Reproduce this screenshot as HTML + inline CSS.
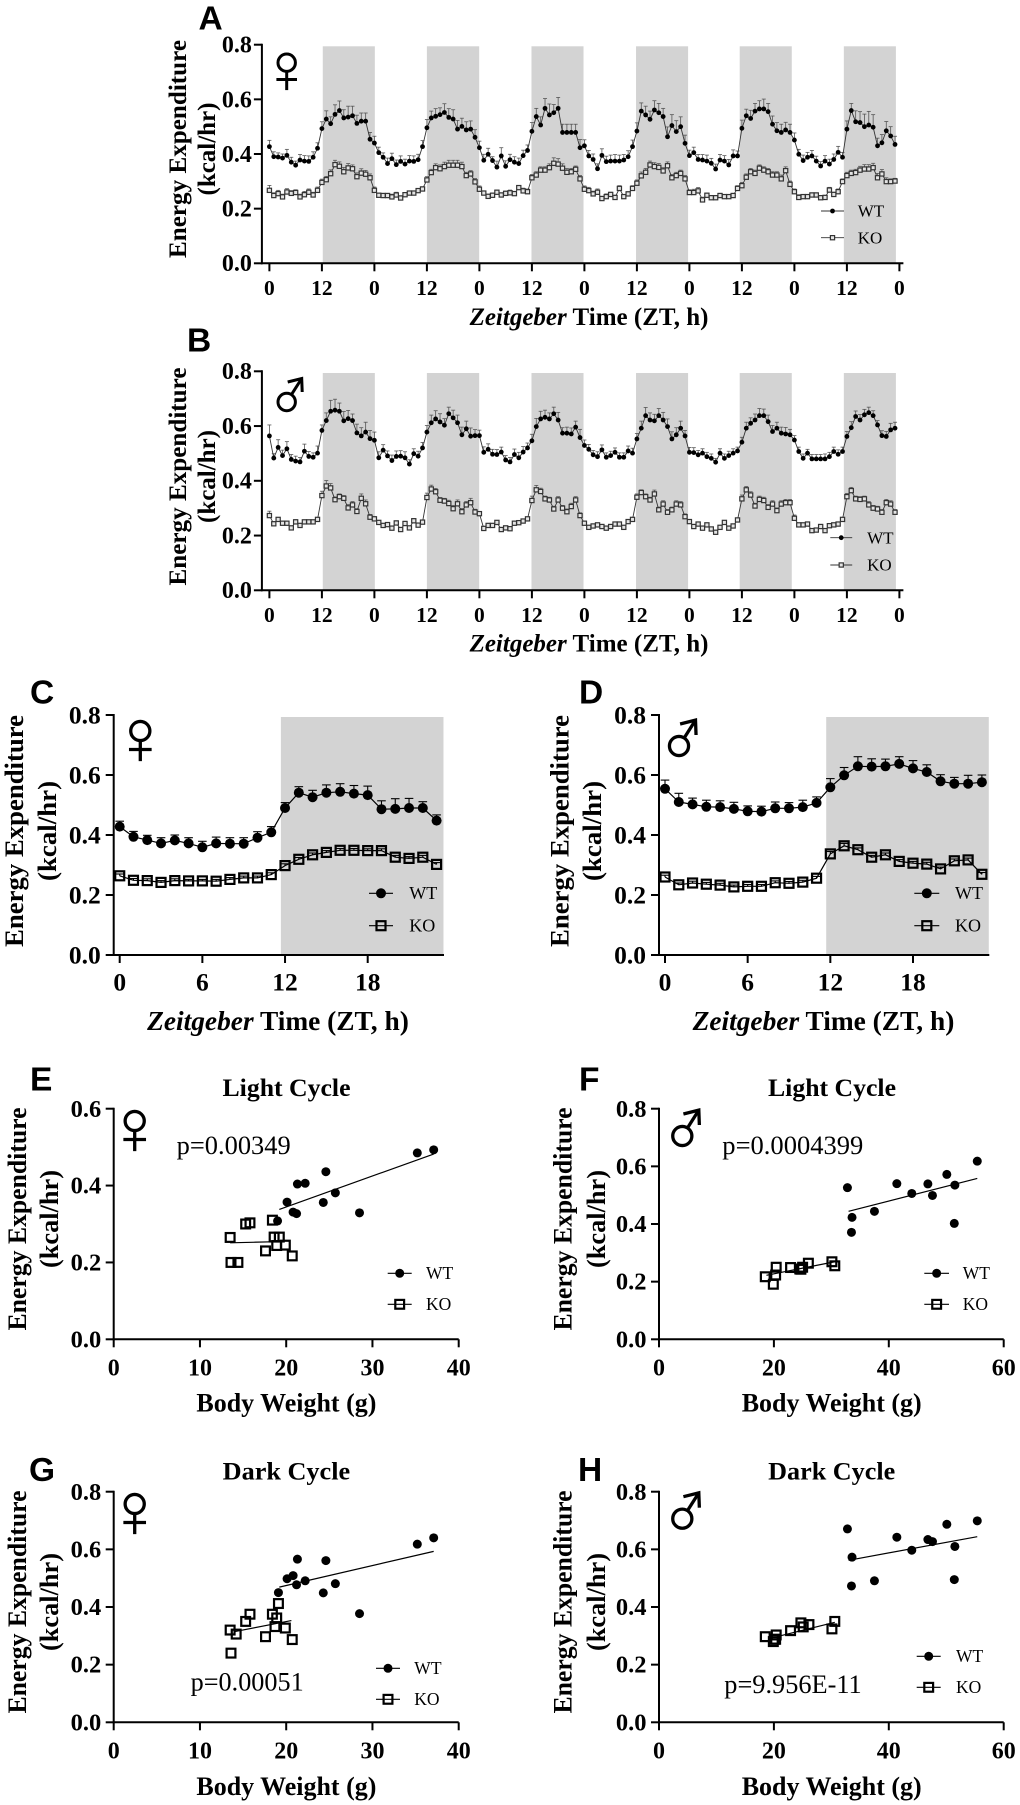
<!DOCTYPE html>
<html lang="en">
<head>
<meta charset="utf-8">
<title>Energy Expenditure Figure</title>
<style>
html,body{margin:0;padding:0;background:#fff;}
svg{display:block;filter:blur(0.35px);}
text{font-family:"Liberation Serif",serif;fill:#000;}
.letter{font-family:"Liberation Sans",sans-serif;font-weight:700;}
.bold{font-weight:700;}
</style>
</head>
<body>
<svg id="figure" xmlns="http://www.w3.org/2000/svg" width="1020" height="1805" viewBox="0 0 1020 1805"></svg>
<script>
/* ---------- Data: Panel A (female, hourly over 6 days) ---------- */
const aWT = [.427,.390,.389,.385,.395,.370,.359,.378,.374,.373,.388,.421,.493,.528,.511,.545,.559,.532,.535,.540,.512,.520,.520,.454,
.440,.405,.388,.365,.383,.361,.373,.363,.374,.373,.379,.427,.496,.532,.538,.544,.552,.534,.528,.491,.501,.488,.491,.461,
.423,.377,.399,.376,.352,.393,.355,.379,.370,.365,.394,.413,.483,.537,.506,.567,.543,.551,.567,.479,.479,.479,.479,.423,
.430,.393,.380,.346,.395,.372,.374,.374,.374,.378,.390,.427,.484,.557,.543,.527,.561,.551,.537,.463,.504,.482,.500,.439,
.394,.405,.380,.378,.374,.366,.345,.378,.374,.360,.393,.393,.494,.540,.530,.557,.565,.565,.555,.509,.485,.479,.488,.479,
.451,.399,.376,.388,.393,.374,.356,.374,.363,.380,.406,.388,.491,.559,.518,.515,.500,.506,.498,.430,.441,.485,.466,.435];
const aWTerr = [.023,.018,.015,.015,.022,.018,.015,.020,.020,.020,.020,.020,.025,.030,.025,.035,.035,.030,.040,.035,.030,.030,.030,.025,
.025,.020,.016,.020,.020,.017,.020,.018,.020,.020,.020,.022,.030,.025,.028,.025,.032,.032,.034,.032,.030,.030,.030,.028,
.024,.022,.022,.014,.022,.030,.020,.020,.020,.020,.020,.020,.032,.030,.030,.036,.040,.030,.040,.030,.030,.030,.030,.030,
.022,.020,.020,.018,.024,.020,.022,.024,.022,.020,.022,.024,.030,.030,.032,.030,.034,.034,.030,.036,.040,.040,.036,.030,
.020,.020,.018,.020,.022,.018,.018,.020,.020,.020,.022,.018,.030,.024,.030,.028,.030,.036,.030,.030,.030,.030,.028,.030,
.026,.018,.020,.018,.020,.018,.016,.020,.018,.020,.022,.018,.030,.026,.040,.040,.046,.050,.046,.028,.030,.034,.034,.030];
const aKO = [.267,.248,.255,.243,.261,.256,.259,.243,.251,.260,.250,.267,.296,.306,.328,.361,.355,.335,.349,.346,.317,.330,.326,.313,
.267,.249,.248,.248,.243,.250,.239,.251,.257,.257,.266,.272,.305,.332,.350,.346,.354,.359,.359,.359,.354,.321,.327,.298,
.271,.257,.245,.249,.260,.250,.256,.258,.255,.277,.265,.262,.313,.323,.341,.341,.350,.366,.363,.348,.333,.335,.344,.309,
.271,.266,.254,.260,.237,.244,.252,.241,.274,.244,.254,.274,.293,.320,.333,.360,.354,.351,.338,.357,.313,.321,.329,.309,
.259,.259,.265,.232,.249,.240,.240,.248,.244,.244,.248,.274,.284,.315,.335,.329,.348,.341,.335,.323,.323,.309,.339,.289,
.262,.241,.244,.244,.250,.250,.240,.241,.268,.252,.262,.299,.321,.329,.332,.341,.345,.345,.350,.313,.327,.299,.299,.301];
const aKOerr = [.018,.010,.012,.010,.012,.010,.010,.010,.012,.012,.010,.012,.012,.012,.014,.016,.016,.016,.016,.014,.014,.016,.014,.014,
.012,.008,.008,.008,.010,.010,.008,.008,.008,.008,.008,.008,.012,.012,.014,.014,.016,.018,.018,.018,.016,.012,.012,.012,
.012,.008,.008,.008,.008,.008,.008,.010,.008,.008,.010,.010,.012,.012,.012,.012,.014,.020,.020,.016,.014,.012,.012,.012,
.012,.012,.010,.012,.008,.010,.008,.008,.010,.008,.008,.010,.012,.014,.014,.014,.014,.014,.012,.014,.012,.012,.012,.012,
.010,.012,.012,.010,.008,.008,.008,.008,.008,.008,.008,.010,.012,.012,.012,.012,.012,.012,.012,.012,.012,.014,.014,.012,
.010,.010,.008,.008,.008,.008,.008,.008,.010,.008,.010,.010,.012,.012,.012,.014,.016,.016,.016,.016,.016,.014,.010,.010];

/* ---------- Data: Panel B (male, hourly over 6 days) ---------- */
const bWT = [.564,.483,.522,.492,.517,.478,.472,.469,.508,.489,.486,.501,.584,.620,.654,.658,.654,.619,.627,.620,.575,.564,.578,.554,
.548,.484,.512,.491,.474,.489,.490,.484,.461,.499,.490,.520,.578,.612,.626,.615,.603,.645,.630,.612,.568,.590,.563,.565,
.565,.504,.515,.497,.496,.505,.476,.469,.496,.484,.505,.520,.546,.598,.626,.632,.626,.645,.622,.574,.574,.571,.596,.558,
.529,.515,.495,.488,.513,.486,.492,.504,.486,.486,.509,.501,.553,.592,.638,.622,.619,.638,.622,.598,.553,.568,.592,.564,
.504,.503,.495,.501,.488,.482,.468,.501,.482,.492,.501,.509,.541,.592,.610,.622,.638,.638,.616,.580,.592,.574,.571,.568,
.549,.507,.482,.501,.480,.480,.480,.480,.488,.507,.497,.507,.562,.594,.635,.622,.641,.649,.638,.604,.565,.562,.586,.592];
const bWTerr = [.040,.016,.028,.020,.026,.018,.018,.016,.026,.018,.016,.026,.020,.028,.040,.040,.030,.034,.030,.024,.032,.030,.036,.030,
.030,.022,.020,.018,.020,.020,.020,.022,.016,.018,.018,.020,.024,.028,.030,.030,.024,.024,.028,.028,.028,.028,.030,.022,
.020,.020,.020,.018,.018,.018,.016,.016,.020,.020,.020,.018,.024,.030,.028,.026,.022,.024,.028,.020,.022,.022,.022,.030,
.020,.018,.016,.018,.018,.016,.016,.016,.016,.016,.018,.018,.020,.026,.030,.026,.024,.026,.028,.028,.026,.026,.026,.020,
.018,.018,.016,.016,.016,.016,.014,.016,.016,.016,.016,.014,.018,.022,.020,.022,.026,.024,.024,.022,.022,.022,.024,.020,
.016,.016,.016,.014,.016,.016,.016,.018,.016,.016,.016,.016,.018,.022,.020,.020,.020,.020,.018,.016,.018,.018,.024,.022];
const bKO = [.273,.243,.259,.245,.245,.228,.250,.237,.250,.250,.250,.259,.346,.381,.374,.331,.342,.336,.301,.312,.288,.336,.316,.267,
.261,.248,.237,.240,.227,.246,.222,.244,.228,.254,.238,.249,.339,.370,.360,.329,.326,.317,.298,.316,.287,.312,.320,.286,
.280,.226,.237,.237,.248,.222,.228,.225,.245,.247,.253,.261,.328,.367,.361,.334,.330,.297,.330,.300,.287,.306,.330,.273,
.245,.230,.235,.239,.233,.227,.233,.242,.242,.230,.251,.259,.340,.357,.342,.330,.352,.294,.315,.285,.294,.315,.312,.269,
.251,.233,.242,.227,.239,.224,.212,.230,.248,.227,.235,.257,.334,.367,.348,.308,.332,.328,.303,.315,.291,.315,.320,.320,
.263,.239,.239,.242,.218,.220,.233,.218,.236,.239,.242,.259,.342,.364,.334,.332,.334,.312,.300,.297,.285,.320,.315,.285];
const bKOerr = [.016,.008,.006,.006,.006,.006,.008,.006,.006,.006,.006,.006,.016,.020,.016,.010,.010,.010,.012,.012,.010,.016,.014,.010,
.008,.006,.006,.006,.006,.008,.006,.008,.006,.008,.006,.006,.016,.014,.012,.010,.010,.012,.012,.014,.012,.012,.016,.010,
.008,.006,.006,.006,.006,.006,.006,.006,.006,.006,.006,.006,.016,.016,.012,.010,.010,.010,.012,.010,.010,.012,.012,.010,
.008,.006,.006,.006,.006,.006,.006,.006,.006,.006,.006,.006,.012,.010,.010,.010,.014,.010,.012,.010,.010,.012,.012,.010,
.008,.006,.006,.006,.006,.006,.006,.006,.006,.006,.006,.006,.014,.012,.012,.010,.012,.012,.010,.012,.010,.012,.012,.012,
.012,.006,.006,.006,.006,.006,.006,.006,.006,.006,.006,.006,.012,.012,.010,.010,.010,.012,.010,.010,.010,.012,.012,.010];

/* ---------- Data: Panels C and D (24 h averages) ---------- */
const cWT = [.428,.394,.383,.372,.382,.372,.359,.372,.371,.371,.391,.409,.490,.541,.526,.541,.544,.538,.533,.486,.487,.490,.490,.448];
const cWTerr = [.018,.018,.016,.019,.018,.019,.020,.021,.020,.020,.020,.019,.018,.020,.023,.026,.027,.027,.030,.028,.034,.032,.021,.019];
const cKO = [.264,.249,.248,.242,.248,.247,.247,.246,.252,.257,.257,.268,.298,.319,.334,.342,.349,.349,.348,.348,.326,.322,.326,.302];
const cKOerr = [.006,.006,.006,.006,.006,.005,.005,.006,.006,.006,.006,.006,.006,.006,.006,.006,.006,.006,.006,.006,.006,.006,.006,.006];
const dWT = [.554,.510,.502,.494,.493,.487,.479,.478,.489,.489,.493,.507,.559,.599,.629,.628,.629,.637,.622,.610,.579,.571,.571,.576];
const dWTerr = [.029,.029,.021,.022,.021,.022,.018,.018,.021,.019,.023,.020,.029,.026,.032,.026,.024,.024,.026,.024,.022,.021,.028,.024];
const dKO = [.260,.234,.240,.236,.233,.227,.229,.229,.241,.239,.243,.256,.337,.364,.351,.326,.334,.312,.306,.303,.287,.314,.317,.269];
const dKOerr = [.006,.006,.006,.006,.006,.006,.006,.006,.006,.006,.006,.006,.008,.008,.006,.006,.006,.006,.006,.006,.006,.006,.006,.006];

/* ---------- Data: Panels E-H (body weight scatter) ---------- */
const eWTx = [19.0,20.1,20.8,21.2,21.3,22.2,24.3,24.6,25.7,28.5,35.2,37.1];
const eWTy = [.308,.357,.331,.327,.404,.406,.356,.436,.381,.329,.485,.493];
const eKOx = [13.5,13.6,14.4,15.3,15.8,17.6,18.4,18.6,19.2,18.9,19.9,20.7];
const eKOy = [.265,.200,.200,.300,.303,.230,.310,.266,.266,.244,.245,.217];
const eWTfitX = [19.2,37.1];
const eWTfitY = [.338,.482];
const eKOfitX = [13.5,18.9];
const eKOfitY = [.251,.254];

const fWTx = [32.8,33.6,33.5,37.5,41.4,44.0,46.8,47.6,50.1,51.5,51.4,55.4];
const fWTy = [.526,.423,.371,.444,.540,.506,.539,.499,.572,.535,.402,.618];
const fKOx = [18.5,19.9,20.4,20.3,22.9,24.5,24.7,25.0,26.0,30.1,30.6];
const fKOy = [.217,.191,.250,.223,.249,.244,.243,.250,.264,.269,.255];
const fWTfitX = [33.0,55.4];
const fWTfitY = [.444,.558];
const fKOfitX = [18.7,30.6];
const fKOfitY = [.222,.269];

const gWTx = [19.1,20.1,20.8,21.2,21.3,22.2,24.3,24.6,25.7,28.5,35.2,37.1];
const gWTy = [.450,.498,.509,.477,.566,.491,.449,.561,.481,.377,.618,.640];
const gKOx = [13.5,13.6,14.2,15.3,15.8,17.6,18.4,18.9,19.1,18.7,19.9,20.7];
const gKOy = [.320,.240,.306,.350,.375,.297,.375,.362,.412,.332,.327,.287];
const gWTfitX = [19.2,37.1];
const gWTfitY = [.469,.593];
const gKOfitX = [13.9,20.6];
const gKOfitY = [.314,.353];

const hWTx = [32.8,33.6,33.5,37.5,41.4,44.0,46.8,47.6,50.1,51.5,51.4,55.4];
const hWTy = [.671,.573,.473,.491,.642,.597,.634,.627,.687,.610,.495,.699];
const hKOx = [18.5,19.9,20.3,20.4,22.9,24.7,25.1,26.1,30.1,30.6,20.1];
const hKOy = [.297,.280,.288,.303,.318,.345,.331,.339,.324,.350,.288];
const hWTfitX = [33.0,55.4];
const hWTfitY = [.562,.644];
const hKOfitX = [20.5,30.6];
const hKOfitY = [.297,.347];

/* ---------- Tick labels ---------- */
const yTicks08 = [0,.2,.4,.6,.8];
const yTicks06 = [0,.2,.4,.6];
const xTicksWeek = [0,12,24,36,48,60,72,84,96,108,120,132,144];
const xLabelsWeek = ['0','12','0','12','0','12','0','12','0','12','0','12','0'];
const xTicksDay = [0,6,12,18];
const xTicks40 = [0,10,20,30,40];
const xTicks60 = [0,20,40,60];
const bandsWeek = [[12.2,24.1],[36,47.95],[59.9,71.8],[83.8,95.7],[107.5,119.4],[131.3,143.2]];
const bandsDay = [[11.7,23.5]];

const svg = document.getElementById('figure');
const NS = 'http://www.w3.org/2000/svg';

function add(parent, tag, attrs, txt) {
  const el = document.createElementNS(NS, tag);
  for (const k in attrs) el.setAttribute(k, attrs[k]);
  if (txt !== undefined) el.textContent = txt;
  parent.appendChild(el);
  return el;
}

function scales(p) {
  return {
    x: v => p.x0 + (v - p.xMin) * (p.x1 - p.x0) / (p.xMax - p.xMin),
    y: v => p.yBot - v * (p.yBot - p.yTop) / p.yMax
  };
}

function drawAxes(g, p, s) {
  const yAxis = add(g, 'line', {x1:p.axisX, x2:p.axisX, y1:p.yTop-1, y2:p.yBot+1, stroke:'#000', 'stroke-width':2});
  
  
  const xAxis = add(g, 'line', {x1:p.axisX-1, x2:p.axisEnd, y1:p.yBot, y2:p.yBot, stroke:'#000', 'stroke-width':2});
  
  
  p.yTicks.forEach(t => {
    const yy = s.y(t);
    const tick = add(g, 'line', {x1:p.axisX-p.tickLen, x2:p.axisX, y1:yy, y2:yy, stroke:'#000', 'stroke-width':2});
    
    
    const lab = add(g, 'text', {x:p.axisX-p.yLabelGap, y:yy+p.yFont*0.33, 'text-anchor':'end', 'font-size':p.yFont, class:'bold'}, t.toFixed(1));
    
    
  });
  p.xTicks.forEach((t, i) => {
    const xx = s.x(t);
    const tick = add(g, 'line', {x1:xx, x2:xx, y1:p.yBot, y2:p.yBot+p.tickLen, stroke:'#000', 'stroke-width':2});
    
    
    const text = p.xLabels ? p.xLabels[i] : String(t);
    const lab = add(g, 'text', {x:xx, y:p.xLabelY, 'text-anchor':'middle', 'font-size':p.xFont, class:'bold'}, text);
    
    
  });
}

function drawYTitles(g, p) {
  const t1 = add(g, 'text', {transform:'translate('+p.yT1X+','+p.yTC+') rotate(-90)', 'text-anchor':'middle', 'font-size':p.yTFont, class:'bold', textLength:p.yT1Len, lengthAdjust:'spacingAndGlyphs'}, 'Energy Expenditure');
  
  
  const t2 = add(g, 'text', {transform:'translate('+p.yT2X+','+p.yTC+') rotate(-90)', 'text-anchor':'middle', 'font-size':p.yTFont, class:'bold', textLength:p.yT2Len, lengthAdjust:'spacingAndGlyphs'}, '(kcal/hr)');
  
  
}

function drawZeitgeberTitle(g, p) {
  const t = add(g, 'text', {x:p.xTX, y:p.xTY, 'text-anchor':'middle', 'font-size':p.xTFont, class:'bold'});
  
  
  const it = add(t, 'tspan', {'font-style':'italic'}, 'Zeitgeber');
  
  
  const rest = add(t, 'tspan', {}, ' Time (ZT, h)');
  
  
}

function drawLetter(p) {
  const l = add(svg, 'text', {x:p.lx, y:p.ly, 'font-size':33.5, class:'letter'}, p.letter);
  
  
}

function drawFemale(g, cx, cy, k) {
  const sym = add(g, 'g', {fill:'none', stroke:'#000', 'stroke-width':3*k});
  
  
  add(sym, 'circle', {cx:cx, cy:cy, r:8.7*k});
  add(sym, 'line', {x1:cx, x2:cx, y1:cy+8.7*k, y2:cy+27.4*k});
  add(sym, 'line', {x1:cx-10.3*k, x2:cx+10.3*k, y1:cy+16.8*k, y2:cy+16.8*k});
}

function drawMale(g, cx, cy, k) {
  const sym = add(g, 'g', {fill:'none', stroke:'#000', 'stroke-width':3*k});
  
  
  add(sym, 'circle', {cx:cx, cy:cy, r:8.7*k});
  const tx = cx + 15*k, ty = cy - 23.5*k;
  add(sym, 'line', {x1:cx+4.7*k, x2:tx, y1:cy-7.3*k, y2:ty});
  add(sym, 'path', {d:'M'+(tx-14*k)+' '+(ty+3.5*k)+' L'+tx+' '+ty+' L'+(tx+0.5*k)+' '+(ty+13.5*k)});
}

function drawSeries(g, name, xs, ys, errs, s, st) {
  const group = add(g, 'g', {});
  
  
  const errG = add(group, 'g', {stroke:st.errColor, 'stroke-width':st.errW});
  
  
  ys.forEach((v, i) => {
    const xx = s.x(xs[i]);
    const y0 = s.y(v), y1 = s.y(v + errs[i]);
    add(errG, 'line', {x1:xx, x2:xx, y1:y0, y2:y1});
    add(errG, 'line', {x1:xx-st.cap, x2:xx+st.cap, y1:y1, y2:y1});
  });
  const pts = ys.map((v, i) => s.x(xs[i]).toFixed(2) + ',' + s.y(v).toFixed(2)).join(' ');
  const line = add(group, 'polyline', {points:pts, fill:'none', stroke:st.lineColor, 'stroke-width':st.lineW});
  
  
  ys.forEach((v, i) => drawMarker(group, name, s.x(xs[i]), s.y(v), st));
}

function drawMarker(parent, name, xx, yy, st) {
  if (name === 'wt') {
    const c = add(parent, 'circle', {cx:xx, cy:yy, r:st.r, fill:'#000'});
    
    
  } else {
    const q = add(parent, 'rect', {x:xx-st.sq, y:yy-st.sq, width:st.sq*2, height:st.sq*2, fill:st.sqFill, stroke:st.sqStroke, 'stroke-width':st.sqW});
    
    
  }
}

function drawLegend(g, p, st) {
  const leg = add(g, 'g', {});
  
  
  [['wt','WT',p.legWY],['ko','KO',p.legKY]].forEach(row => {
    const entry = add(leg, 'g', {});
    
    
    add(entry, 'line', {x1:p.legX0, x2:p.legX1, y1:row[2], y2:row[2], stroke:st.lineColor, 'stroke-width':st.lineW});
    drawMarker(entry, row[0], (p.legX0+p.legX1)/2, row[2], st);
    const lab = add(entry, 'text', {x:p.legTX, y:row[2]+p.legFont*0.33, 'font-size':p.legFont}, row[1]);
    
    
  });
}

function drawTimePanel(p, wt, wtErr, ko, koErr) {
  const g = add(svg, 'g', {});
  
  
  const s = scales(p);
  p.bands.forEach(b => {
    const r = add(g, 'rect', {x:s.x(b[0]), width:s.x(b[1])-s.x(b[0]), y:p.bandTop, height:p.yBot-p.bandTop, fill:'#d3d3d3'});
    
    
  });
  drawAxes(g, p, s);
  drawYTitles(g, p);
  drawZeitgeberTitle(g, p);
  drawLetter(p);
  const xs = wt.map((_, i) => i);
  drawSeries(g, 'ko', xs, ko, koErr, s, p.st);
  drawSeries(g, 'wt', xs, wt, wtErr, s, p.st);
  drawLegend(g, p, p.st);
  if (p.sex === 'f') drawFemale(g, p.sx, p.sy, p.sk); else drawMale(g, p.sx, p.sy, p.sk);
}

function drawFit(g, name, fx, fy, s) {
  const l = add(g, 'line', {x1:s.x(fx[0]), x2:s.x(fx[1]), y1:s.y(fy[0]), y2:s.y(fy[1]), stroke:'#000', 'stroke-width':1.2});
  
  
}

function drawScatterPanel(p, wx, wy, kx, ky, wfx, wfy, kfx, kfy) {
  const g = add(svg, 'g', {});
  
  
  const s = scales(p);
  drawAxes(g, p, s);
  drawYTitles(g, p);
  drawLetter(p);
  const xt = add(g, 'text', {x:p.xTX, y:p.xTY, 'text-anchor':'middle', 'font-size':26, class:'bold', textLength:180, lengthAdjust:'spacingAndGlyphs'}, 'Body Weight (g)');
  
  
  const tt = add(g, 'text', {x:p.titleX, y:p.titleY, 'text-anchor':'middle', 'font-size':25.5, class:'bold', textLength:p.titleLen, lengthAdjust:'spacingAndGlyphs'}, p.title);
  
  
  const pv = add(g, 'text', {x:p.pX, y:p.pY, 'font-size':26, textLength:p.pLen, lengthAdjust:'spacingAndGlyphs'}, p.pText);
  
  
  wx.forEach((v, i) => {
    const c = add(g, 'circle', {cx:s.x(v), cy:s.y(wy[i]), r:p.st.r, fill:'#000'});
    
    
  });
  kx.forEach((v, i) => {
    const sq = p.st.sq;
    const q = add(g, 'rect', {x:s.x(v)-sq, y:s.y(ky[i])-sq, width:sq*2, height:sq*2, fill:'none', stroke:'#000', 'stroke-width':p.st.sqW});
    
    
  });
  drawFit(g, 'wt', wfx, wfy, s);
  drawFit(g, 'ko', kfx, kfy, s);
  drawLegend(g, p, p.st);
  if (p.sex === 'f') drawFemale(g, p.sx, p.sy, p.sk); else drawMale(g, p.sx, p.sy, p.sk);
}

/* ---------- Styles and layouts ---------- */
const stWeek = {r:2.4, sq:2.1, sqFill:'#e4e4e4', sqStroke:'#333', sqW:1.2, lineColor:'#333', lineW:0.9, errColor:'#555', errW:0.8, cap:2};
const stDay = {r:5, sq:4.5, sqFill:'none', sqStroke:'#000', sqW:2.2, lineColor:'#000', lineW:1.2, errColor:'#000', errW:1.1, cap:4.3};
const stScat = {r:4.5, sq:4.4, sqFill:'none', sqStroke:'#000', sqW:2.2, lineColor:'#000', lineW:1.2};

const weekBase = {xMin:0, xMax:144, x0:269.4, x1:899.4, axisX:261.9, axisEnd:903.4, yMax:.8, tickLen:8, yLabelGap:10, yFont:24, xFont:21.5,
  yTicks:yTicks08, xTicks:xTicksWeek, xLabels:xLabelsWeek, bands:bandsWeek, st:stWeek,
  yTFont:25, yT1X:186, yT2X:215, yT1Len:218, yT2Len:93, xTFont:25, xTX:589, legFont:17, sk:1};
const dayBase = {xMin:0, xMax:18, yMax:.8, tickLen:8, yLabelGap:13, yFont:25.5, xFont:25.5,
  yTicks:yTicks08, xTicks:xTicksDay, bands:bandsDay, st:stDay,
  yTFont:26.5, yT1Len:232, yT2Len:100, xTFont:27.4, legFont:18, sk:1.1};
const scatBase = {xMin:0, tickLen:8, yLabelGap:12.5, yFont:24.5, xFont:24, st:stScat, yTFont:26, yT1Len:223, yT2Len:98, legFont:17.5, sk:1.1};

drawTimePanel(Object.assign({}, weekBase, {letter:'A', lx:198.5, ly:29.3, yTop:44.7, yBot:263.3, bandTop:46.3, yTC:149, xLabelY:295, xTY:325,
  legX0:821, legX1:844, legWY:211, legKY:237.7, legTX:857.7, sex:'f', sx:286.7, sy:62.7}), aWT, aWTerr, aKO, aKOerr);
drawTimePanel(Object.assign({}, weekBase, {letter:'B', lx:187, ly:351.7, yTop:371.3, yBot:590.3, bandTop:373, yTC:476.5, xLabelY:622, xTY:651.7,
  legX0:830.3, legX1:852.2, legWY:537.7, legKY:565, legTX:867.1, sex:'m', sx:286.7, sy:402}), bWT, bWTerr, bKO, bKOerr);
drawTimePanel(Object.assign({}, dayBase, {letter:'C', lx:30, ly:703.3, x0:119.7, x1:367.7, axisX:113.7, axisEnd:444, yTop:715, yBot:955, bandTop:717, yTC:831, xLabelY:990.7, yT1X:23, yT2X:56, xTX:278, xTY:1030,
  legX0:369, legX1:393, legWY:893.3, legKY:925.7, legTX:409.3, sex:'f', sx:140.3, sy:731}), cWT, cWTerr, cKO, cKOerr);
drawTimePanel(Object.assign({}, dayBase, {letter:'D', lx:579, ly:703.3, x0:665, x1:913, axisX:659, axisEnd:989.3, yTop:715, yBot:955, bandTop:717, yTC:831, xLabelY:990.7, yT1X:568.3, yT2X:601, xTX:823.5, xTY:1030,
  legX0:914.3, legX1:939.3, legWY:893.3, legKY:925.7, legTX:955, sex:'m', sx:679, sy:746}), dWT, dWTerr, dKO, dKOerr);

drawScatterPanel(Object.assign({}, scatBase, {letter:'E', lx:30, ly:1090.7, xMax:40, x0:113.7, x1:458.7, axisX:113.7, axisEnd:458.7, yMax:.6, yTop:1108.7, yBot:1339.3, yTicks:yTicks06, xTicks:xTicks40, xLabelY:1375.7,
  yT1X:26, yT2X:58, yTC:1219, xTX:286.4, xTY:1411.7, title:'Light Cycle', titleX:286.5, titleY:1096, titleLen:128, pText:'p=0.00349', pX:176.7, pY:1154, pLen:114,
  legX0:387.7, legX1:411.7, legWY:1273.3, legKY:1304.3, legTX:426, sex:'f', sx:134.7, sy:1121}), eWTx, eWTy, eKOx, eKOy, eWTfitX, eWTfitY, eKOfitX, eKOfitY);
drawScatterPanel(Object.assign({}, scatBase, {letter:'F', lx:579, ly:1090.7, xMax:60, x0:659, x1:1003.7, axisX:659, axisEnd:1003.7, yMax:.8, yTop:1108.7, yBot:1339.3, yTicks:yTicks08, xTicks:xTicks60, xLabelY:1375.7,
  yT1X:571.7, yT2X:605, yTC:1219, xTX:831.7, xTY:1411.7, title:'Light Cycle', titleX:832, titleY:1096, titleLen:128, pText:'p=0.0004399', pX:722.3, pY:1154, pLen:141,
  legX0:924.3, legX1:949, legWY:1273.3, legKY:1304.3, legTX:962.7, sex:'m', sx:682.3, sy:1136}), fWTx, fWTy, fKOx, fKOy, fWTfitX, fWTfitY, fKOfitX, fKOfitY);
drawScatterPanel(Object.assign({}, scatBase, {letter:'G', lx:29, ly:1481, xMax:40, x0:113.7, x1:458.7, axisX:113.7, axisEnd:458.7, yMax:.8, yTop:1491.7, yBot:1722.3, yTicks:yTicks08, xTicks:xTicks40, xLabelY:1758.3,
  yT1X:26, yT2X:58, yTC:1602, xTX:286.4, xTY:1795, title:'Dark Cycle', titleX:286.4, titleY:1479.3, titleLen:127.5, pText:'p=0.00051', pX:190.7, pY:1690.7, pLen:113,
  legX0:376, legX1:400, legWY:1668.3, legKY:1699.3, legTX:414.3, sex:'f', sx:134.7, sy:1504}), gWTx, gWTy, gKOx, gKOy, gWTfitX, gWTfitY, gKOfitX, gKOfitY);
drawScatterPanel(Object.assign({}, scatBase, {letter:'H', lx:578, ly:1481, xMax:60, x0:659, x1:1003.7, axisX:659, axisEnd:1003.7, yMax:.8, yTop:1491.7, yBot:1722.3, yTicks:yTicks08, xTicks:xTicks60, xLabelY:1758.3,
  yT1X:571.7, yT2X:605, yTC:1602, xTX:831.7, xTY:1795, title:'Dark Cycle', titleX:831.7, titleY:1479.3, titleLen:127, pText:'p=9.956E-11', pX:724.3, pY:1693, pLen:137.4,
  legX0:916.7, legX1:940.7, legWY:1656.3, legKY:1687.3, legTX:956, sex:'m', sx:682.3, sy:1518.7}), hWTx, hWTy, hKOx, hKOy, hWTfitX, hWTfitY, hKOfitX, hKOfitY);
</script>
</body>
</html>
